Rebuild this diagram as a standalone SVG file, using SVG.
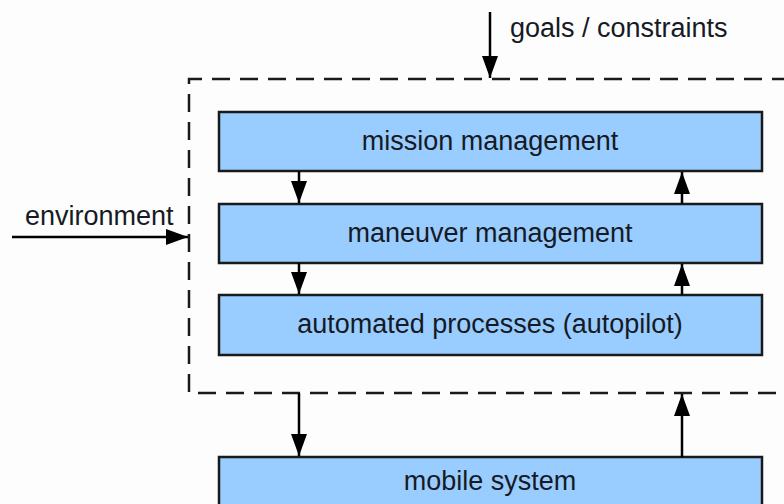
<svg xmlns="http://www.w3.org/2000/svg" width="784" height="504" viewBox="0 0 784 504">
<defs>
<marker id="ahb" viewBox="0 0 10 10" refX="10" refY="5" markerWidth="22" markerHeight="16" markerUnits="userSpaceOnUse" orient="auto" preserveAspectRatio="none">
<path d="M0,0 L10,5 L0,10 Z" fill="#000"/>
</marker>
<style>
.box{fill:#99ccff;stroke:#1a1a1a;stroke-width:2.5}
.t{font-family:"Liberation Sans",Arial,sans-serif;font-size:27px;fill:#161a24}
.c{text-anchor:middle}
.ln{stroke:#000;stroke-width:2.5;fill:none;marker-end:url(#ahb)}
.dash{fill:none;stroke:#1a1a1a;stroke-width:2.5;stroke-dasharray:18 10}
</style>
</defs>
<rect width="784" height="504" fill="#fdfdfd"/>
<path class="dash" d="M790,79 H189 V393 H790"/>
<g id="mission"><rect class="box" x="219" y="112" width="543" height="59"/><text class="t c" x="490" y="150">mission management</text></g>
<g id="maneuver"><rect class="box" x="219" y="204" width="543" height="59"/><text class="t c" x="490" y="242">maneuver management</text></g>
<g id="automated"><rect class="box" x="219" y="295" width="543" height="60"/><text class="t c" x="490" y="333">automated processes (autopilot)</text></g>
<g id="mobile"><rect class="box" x="219" y="457" width="543" height="60"/><text class="t c" x="490" y="490">mobile system</text></g>
<g id="labels">
<text class="t" x="510" y="37">goals / constraints</text>
<text class="t" x="25" y="225">environment</text>
</g>
<g id="connectors">
<line class="ln" x1="490" y1="12" x2="490" y2="78"/>
<line class="ln" x1="12" y1="237" x2="188" y2="237"/>
<line class="ln" x1="299" y1="171" x2="299" y2="203"/>
<line class="ln" x1="299" y1="263" x2="299" y2="294"/>
<line class="ln" x1="682" y1="204" x2="682" y2="172"/>
<line class="ln" x1="682" y1="295" x2="682" y2="264"/>
<line class="ln" x1="299" y1="393" x2="299" y2="456"/>
<line class="ln" x1="682" y1="457" x2="682" y2="394"/>
</g>
</svg>
